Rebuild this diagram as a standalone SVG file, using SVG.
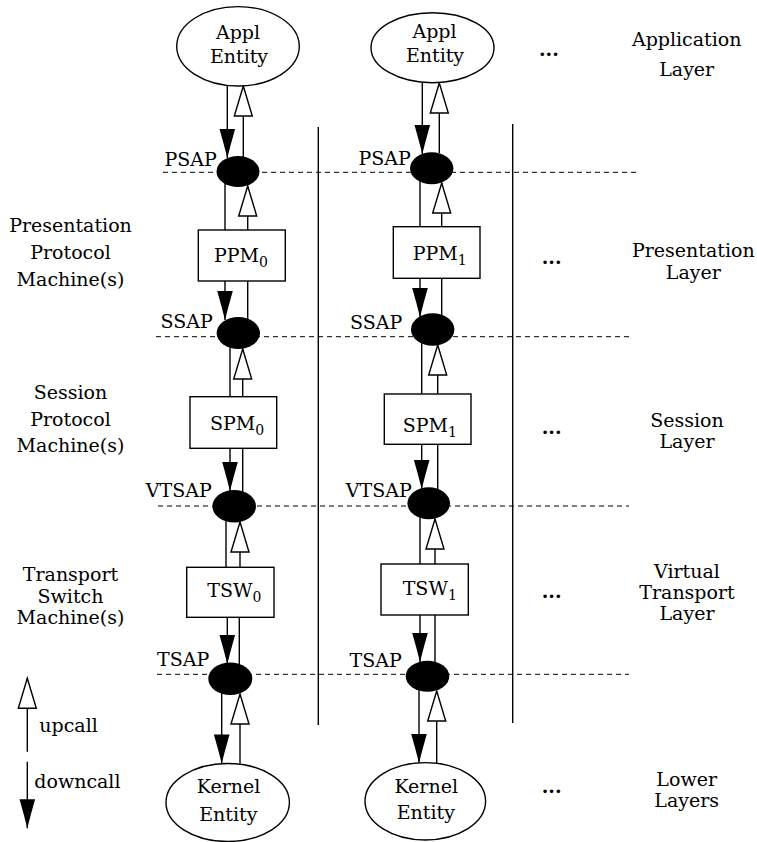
<svg xmlns="http://www.w3.org/2000/svg" width="757" height="842" viewBox="0 0 757 842">
<style>
text{font-family:"DejaVu Serif","Liberation Serif",serif;font-size:19px;fill:#000}
.c{text-anchor:middle}
.e{text-anchor:end}
.sub{font-size:14px}
.dots{font-weight:bold;font-size:19px}
.node{fill:#fff;stroke:#000;stroke-width:1.4}
.sap{fill:#000;stroke:none}
.ln{fill:none;stroke:#000;stroke-width:1.4}
.dn{marker-end:url(#fill)}
.up{marker-end:url(#hollow)}
.dash{fill:none;stroke:#000;stroke-width:1;stroke-dasharray:5 4}
.sep{fill:none;stroke:#000;stroke-width:1.4}
</style>
<defs>
<marker id="fill" markerUnits="userSpaceOnUse" viewBox="-32 -10 34 20" refX="0" refY="0" markerWidth="34" markerHeight="20" orient="auto" overflow="visible">
<path d="M0,0 Q-14,-3.5 -29,-7.8 L-29,7.8 Q-14,3.5 0,0 Z" fill="#000"/>
</marker>
<marker id="hollow" markerUnits="userSpaceOnUse" viewBox="-32 -10 34 20" refX="0" refY="0" markerWidth="34" markerHeight="20" orient="auto" overflow="visible">
<path d="M0,0 L-30,-9 L-30,9 Z" fill="#fff" stroke="#000" stroke-width="1.4"/>
</marker>
</defs>

<g id="layer-lines">
<path class="dash" d="M163,172.3 H637"/>
<path class="dash" d="M156,336.7 H629"/>
<path class="dash" d="M158,506 H629"/>
<path class="dash" d="M157,674.3 H629"/>
<path class="sep" d="M318.3,127 V725"/>
<path class="sep" d="M512.7,124 V723"/>
</g>

<g id="connectors">
<!-- column 0 -->
<path class="ln dn" d="M227.3,85.5 V158"/>
<path class="ln up" d="M243.3,157 V86"/>
<path class="ln" d="M225,182 V230"/>
<path class="ln up" d="M247.7,230 V186"/>
<path class="ln dn" d="M225,281 V320"/>
<path class="ln" d="M247.7,281 V322"/>
<path class="ln" d="M230,345 V396.7"/>
<path class="ln up" d="M242.7,396.7 V349"/>
<path class="ln dn" d="M230,448.3 V491"/>
<path class="ln" d="M242.7,448.3 V492"/>
<path class="ln" d="M226,518 V567.3"/>
<path class="ln up" d="M240,567.3 V522"/>
<path class="ln dn" d="M227.3,617.3 V664"/>
<path class="ln" d="M239.3,617.3 V664"/>
<path class="ln dn" d="M221.7,692 V763.5"/>
<path class="ln up" d="M240,763.5 V694"/>
<!-- column 1 -->
<path class="ln dn" d="M422.3,82 V154"/>
<path class="ln up" d="M439.3,153 V83"/>
<path class="ln" d="M420,180 V226.7"/>
<path class="ln up" d="M441.7,226.7 V183"/>
<path class="ln dn" d="M420,278.3 V317"/>
<path class="ln" d="M441.7,278.3 V318"/>
<path class="ln" d="M421.7,340 V394"/>
<path class="ln up" d="M437.7,394 V345"/>
<path class="ln dn" d="M421.7,444.3 V489"/>
<path class="ln" d="M437.7,444.3 V490"/>
<path class="ln" d="M420,515 V564"/>
<path class="ln up" d="M435,564 V519"/>
<path class="ln dn" d="M420,615 V662"/>
<path class="ln" d="M435,615 V664"/>
<path class="ln dn" d="M419,688 V763"/>
<path class="ln up" d="M436.7,763 V691"/>
</g>

<g id="appl0"><ellipse class="node" cx="238" cy="46.3" rx="61.3" ry="39.7"/><text class="c" x="238" y="39.3">Appl</text><text class="c" x="239" y="63.3">Entity</text></g>
<g id="appl1"><ellipse class="node" cx="432.5" cy="47.7" rx="61.5" ry="35"/><text class="c" x="434.5" y="38.3">Appl</text><text class="c" x="435" y="61.7">Entity</text></g>

<g id="psap0"><ellipse class="sap" cx="238" cy="171.5" rx="21.5" ry="15.5"/><text class="e" x="216.7" y="165.7">PSAP</text></g>
<g id="psap1"><ellipse class="sap" cx="431.7" cy="168.3" rx="21.7" ry="16"/><text class="e" x="410.7" y="165">PSAP</text></g>

<g id="ppm0"><rect class="node" x="198.3" y="230" width="87" height="51"/><text x="214" y="262">PPM<tspan class="sub" dy="5">0</tspan></text></g>
<g id="ppm1"><rect class="node" x="393.3" y="226.7" width="86.7" height="51.6"/><text x="412.7" y="260">PPM<tspan class="sub" dy="5">1</tspan></text></g>

<g id="ssap0"><ellipse class="sap" cx="238.3" cy="333" rx="21.7" ry="16"/><text class="e" x="212.7" y="328.3">SSAP</text></g>
<g id="ssap1"><ellipse class="sap" cx="432.7" cy="329.5" rx="21.7" ry="16.2"/><text class="e" x="402.3" y="329">SSAP</text></g>

<g id="spm0"><rect class="node" x="190" y="396.7" width="86.7" height="51.6"/><text x="210" y="430">SPM<tspan class="sub" dy="5">0</tspan></text></g>
<g id="spm1"><rect class="node" x="384.3" y="394" width="86.7" height="50.3"/><text x="402.7" y="431.7">SPM<tspan class="sub" dy="5">1</tspan></text></g>

<g id="vtsap0"><ellipse class="sap" cx="234.2" cy="506.3" rx="21.8" ry="16.3"/><text class="e" x="211.7" y="497.3">VTSAP</text></g>
<g id="vtsap1"><ellipse class="sap" cx="428.7" cy="503.3" rx="21.3" ry="16"/><text class="e" x="411.7" y="496.7">VTSAP</text></g>

<g id="tsw0"><rect class="node" x="186.7" y="567.3" width="87.3" height="50"/><text x="207.3" y="596.7">TSW<tspan class="sub" dy="5">0</tspan></text></g>
<g id="tsw1"><rect class="node" x="381" y="564" width="87.3" height="51"/><text x="402.7" y="595">TSW<tspan class="sub" dy="5">1</tspan></text></g>

<g id="tsap0"><ellipse class="sap" cx="230.3" cy="678.8" rx="22" ry="16.2"/><text class="e" x="209.3" y="666">TSAP</text></g>
<g id="tsap1"><ellipse class="sap" cx="427.5" cy="676.2" rx="21.8" ry="15.5"/><text class="e" x="401.7" y="666.7">TSAP</text></g>

<g id="kernel0"><ellipse class="node" cx="227.7" cy="802.5" rx="61.7" ry="39"/><text class="c" x="228.5" y="793">Kernel</text><text class="c" x="228.3" y="820.7">Entity</text></g>
<g id="kernel1"><ellipse class="node" cx="425.3" cy="801.3" rx="60.3" ry="38.7"/><text class="c" x="426.2" y="792.7">Kernel</text><text class="c" x="425.8" y="819.3">Entity</text></g>

<g id="left-labels">
<text class="c" x="70.5" y="231.7">Presentation</text>
<text class="c" x="70.5" y="259.3">Protocol</text>
<text class="c" x="70.5" y="286">Machine(s)</text>
<text class="c" x="70.5" y="398.5">Session</text>
<text class="c" x="70.5" y="425.5">Protocol</text>
<text class="c" x="70.5" y="451.7">Machine(s)</text>
<text class="c" x="70.5" y="580.5">Transport</text>
<text class="c" x="70.5" y="602.5">Switch</text>
<text class="c" x="70.5" y="624">Machine(s)</text>
</g>

<g id="right-labels">
<text class="c" x="686.7" y="46">Application</text>
<text class="c" x="686.7" y="75.5">Layer</text>
<text class="c" x="693.3" y="257.3">Presentation</text>
<text class="c" x="693.3" y="278.5">Layer</text>
<text class="c" x="687" y="426.5">Session</text>
<text class="c" x="687" y="447.7">Layer</text>
<text class="c" x="687" y="577.7">Virtual</text>
<text class="c" x="687" y="598.5">Transport</text>
<text class="c" x="687" y="620">Layer</text>
<text class="c" x="686.7" y="786">Lower</text>
<text class="c" x="686.7" y="807.3">Layers</text>
</g>

<g id="ellipses-dots">
<text class="dots" x="539" y="55.5">...</text>
<text class="dots" x="541.7" y="264">...</text>
<text class="dots" x="541.7" y="433.5">...</text>
<text class="dots" x="541.7" y="598">...</text>
<text class="dots" x="541.7" y="793">...</text>
</g>

<g id="legend">
<path class="ln up" d="M27.3,751.7 V678.3"/>
<text x="39.3" y="731.7">upcall</text>
<path class="ln dn" d="M27.3,761.7 V828.3"/>
<text x="34.3" y="788.3">downcall</text>
</g>
</svg>
